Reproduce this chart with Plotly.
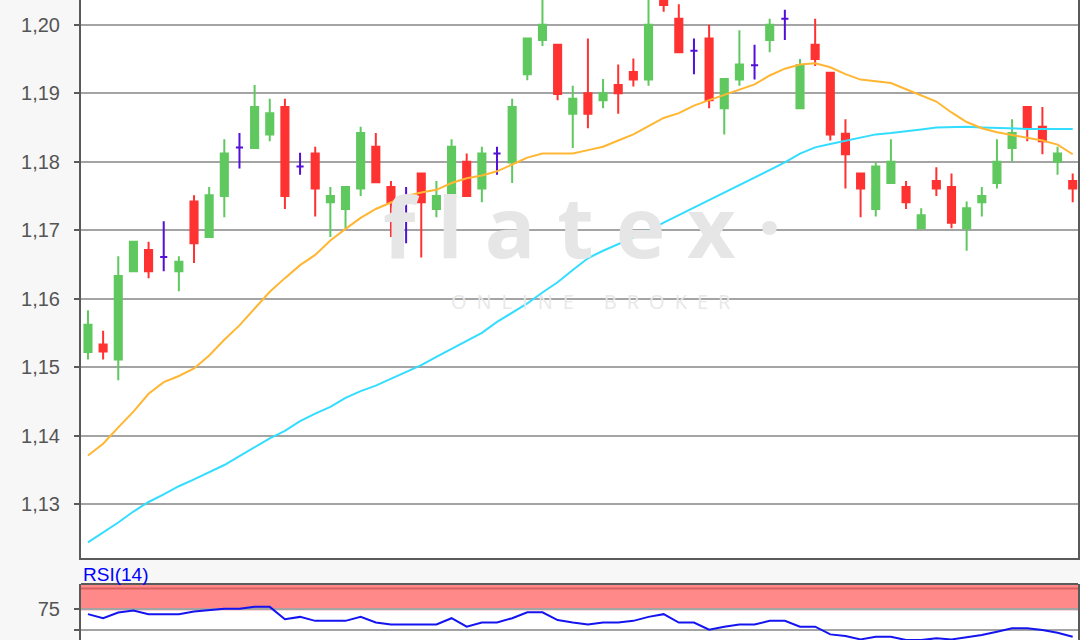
import plotly.graph_objects as go

# ---- data ----
idx = list(range(66))
open_ = [1.1522, 1.1533, 1.1511, 1.1640, 1.1671, 1.1661, 1.1640, 1.1742, 1.1690, 1.1750,
         1.1821, 1.1820, 1.1840, 1.1880, 1.1793, 1.1812, 1.1741, 1.1731, 1.1761, 1.1822,
         1.1763, 1.1741, 1.1783, 1.1731, 1.1750, 1.1800, 1.1761, 1.1812, 1.1799, 1.1928,
         1.1978, 1.1971, 1.1870, 1.1900, 1.1890, 1.1912, 1.1931, 1.1920, 1.2042, 1.2009,
         1.1962, 1.1980, 1.1878, 1.1920, 1.1941, 1.1978, 1.2009, 1.1878, 1.1971, 1.1930,
         1.1841, 1.1783, 1.1731, 1.1769, 1.1763, 1.1703, 1.1772, 1.1763, 1.1703, 1.1741,
         1.1769, 1.1820, 1.1880, 1.1851, 1.1800, 1.1772]
high = [1.1583, 1.1553, 1.1662, 1.1683, 1.1683, 1.1713, 1.1662, 1.1751, 1.1763, 1.1833,
        1.1842, 1.1912, 1.1892, 1.1892, 1.1813, 1.1822, 1.1763, 1.1763, 1.1851, 1.1842,
        1.1772, 1.1763, 1.1783, 1.1772, 1.1833, 1.1812, 1.1822, 1.1822, 1.1892, 1.1980,
        1.2045, 1.1971, 1.1911, 1.1980, 1.1921, 1.1942, 1.1951, 1.2045, 1.2050, 1.2030,
        1.1980, 1.2000, 1.1921, 1.1992, 1.1971, 1.2009, 1.2022, 1.1950, 1.2009, 1.1930,
        1.1862, 1.1783, 1.1800, 1.1833, 1.1772, 1.1732, 1.1792, 1.1783, 1.1742, 1.1763,
        1.1833, 1.1862, 1.1880, 1.1880, 1.1822, 1.1783]
low = [1.1511, 1.1511, 1.1481, 1.1640, 1.1630, 1.1640, 1.1611, 1.1652, 1.1690, 1.1719,
       1.1790, 1.1820, 1.1830, 1.1731, 1.1781, 1.1720, 1.1690, 1.1703, 1.1750, 1.1770,
       1.1690, 1.1681, 1.1660, 1.1719, 1.1731, 1.1750, 1.1741, 1.1781, 1.1769, 1.1919,
       1.1969, 1.1890, 1.1820, 1.1849, 1.1878, 1.1870, 1.1910, 1.1911, 1.2019, 1.1960,
       1.1928, 1.1878, 1.1840, 1.1911, 1.1920, 1.1960, 1.1978, 1.1878, 1.1940, 1.1831,
       1.1761, 1.1719, 1.1720, 1.1769, 1.1731, 1.1703, 1.1750, 1.1703, 1.1670, 1.1720,
       1.1761, 1.1800, 1.1830, 1.1811, 1.1781, 1.1741]
close = [1.1562, 1.1523, 1.1633, 1.1683, 1.1640, 1.1661, 1.1654, 1.1681, 1.1751, 1.1812,
         1.1821, 1.1880, 1.1871, 1.1750, 1.1793, 1.1761, 1.1750, 1.1763, 1.1842, 1.1770,
         1.1741, 1.1741, 1.1741, 1.1750, 1.1822, 1.1750, 1.1812, 1.1812, 1.1880, 1.1980,
         1.2000, 1.1899, 1.1892, 1.1870, 1.1900, 1.1900, 1.1920, 1.2000, 1.2029, 1.1960,
         1.1962, 1.1890, 1.1921, 1.1942, 1.1941, 1.2000, 1.2009, 1.1941, 1.1950, 1.1840,
         1.1811, 1.1761, 1.1793, 1.1800, 1.1741, 1.1722, 1.1761, 1.1711, 1.1732, 1.1750,
         1.1800, 1.1842, 1.1850, 1.1830, 1.1812, 1.1761]
doji_idx = [5, 10, 14, 21, 27, 40, 44, 46]

ma_fast = [1.1371, 1.1388, 1.1412, 1.1435, 1.1461, 1.1478, 1.1487, 1.1498, 1.1517, 1.1540,
           1.1561, 1.1586, 1.1610, 1.1630, 1.1649, 1.1664, 1.1685, 1.1702, 1.1718, 1.1731,
           1.1740, 1.1750, 1.1755, 1.1759, 1.1769, 1.1776, 1.1780, 1.1786, 1.1796, 1.1806,
           1.1812, 1.1812, 1.1812, 1.1817, 1.1822, 1.1831, 1.1840, 1.1852, 1.1864, 1.1871,
           1.1882, 1.1890, 1.1898, 1.1906, 1.1913, 1.1926, 1.1936, 1.1942, 1.1944, 1.1938,
           1.1928, 1.1920, 1.1917, 1.1915, 1.1906, 1.1897, 1.1888, 1.1872, 1.1858, 1.1849,
           1.1843, 1.1839, 1.1835, 1.1831, 1.1825, 1.1811]
ma_slow = [1.1244, 1.1258, 1.1273, 1.1289, 1.1303, 1.1314, 1.1326, 1.1336, 1.1347, 1.1357,
           1.1370, 1.1383, 1.1396, 1.1407, 1.1421, 1.1432, 1.1442, 1.1455, 1.1465, 1.1473,
           1.1483, 1.1494, 1.1503, 1.1515, 1.1527, 1.1539, 1.1550, 1.1566, 1.1580, 1.1593,
           1.1609, 1.1624, 1.1642, 1.1659, 1.1670, 1.1680, 1.1689, 1.1699, 1.1711, 1.1722,
           1.1732, 1.1743, 1.1754, 1.1765, 1.1776, 1.1787, 1.1799, 1.1812, 1.1821, 1.1826,
           1.1831, 1.1836, 1.1840, 1.1842, 1.1844, 1.1847, 1.1850, 1.1851, 1.1851, 1.1850,
           1.1849, 1.1848, 1.1848, 1.1848, 1.1848, 1.1848]
rsi = [69.0, 64.1, 70.9, 73.3, 69.0, 69.0, 69.0, 72.1, 74.2, 75.4,
       75.4, 77.8, 77.8, 62.9, 65.7, 60.9, 60.9, 60.9, 65.7, 58.9,
       56.5, 56.5, 56.5, 56.5, 64.1, 53.9, 58.9, 58.9, 64.1, 71.3,
       71.3, 61.9, 58.9, 56.5, 58.9, 58.9, 60.9, 65.7, 69.0, 58.9,
       58.9, 50.2, 53.9, 56.5, 56.5, 60.9, 60.9, 53.9, 53.9, 44.6,
       42.6, 38.5, 41.8, 41.8, 37.7, 37.7, 39.8, 38.5, 41.0, 43.8,
       47.8, 51.9, 51.9, 49.8, 46.6, 41.8]
price_ticks = [1.13, 1.14, 1.15, 1.16, 1.17, 1.18, 1.19, 1.20]
rsi_ticks = [50, 75]
rsi_tick_labels = ["", "75"]

# ---- styling ----
GREEN = "#5fc85f"
RED = "#ff3232"
PURPLE = "#5310d8"
ORANGE = "#ffb632"
CYAN = "#33ddff"
AXIS = "#5a5a5a"
GRID = "#a4a4a4"

dset = set(doji_idx)
o_n = [None if i in dset else v for i, v in zip(idx, open_)]
h_n = [None if i in dset else v for i, v in zip(idx, high)]
l_n = [None if i in dset else v for i, v in zip(idx, low)]
c_n = [None if i in dset else v for i, v in zip(idx, close)]

fig = go.Figure()

fig.add_trace(go.Scatter(x=idx, y=ma_slow, mode="lines", line=dict(color=CYAN, width=2),
                         hoverinfo="skip", showlegend=False))
fig.add_trace(go.Scatter(x=idx, y=ma_fast, mode="lines", line=dict(color=ORANGE, width=2),
                         hoverinfo="skip", showlegend=False))

fig.add_trace(go.Candlestick(
    x=idx, open=o_n, high=h_n, low=l_n, close=c_n,
    increasing=dict(line=dict(color=GREEN, width=2), fillcolor=GREEN),
    decreasing=dict(line=dict(color=RED, width=2), fillcolor=RED),
    whiskerwidth=0, showlegend=False, hoverinfo="skip"))
fig.add_trace(go.Candlestick(
    x=doji_idx,
    open=[open_[i] for i in doji_idx], high=[high[i] for i in doji_idx],
    low=[low[i] for i in doji_idx], close=[close[i] for i in doji_idx],
    increasing=dict(line=dict(color=PURPLE, width=2), fillcolor=PURPLE),
    decreasing=dict(line=dict(color=PURPLE, width=2), fillcolor=PURPLE),
    whiskerwidth=0, showlegend=False, hoverinfo="skip"))

fig.add_trace(go.Scatter(x=idx, y=rsi, mode="lines", line=dict(color="#1414f0", width=2),
                         xaxis="x2", yaxis="y2", hoverinfo="skip", showlegend=False))

H = 640.0
main_bottom = (H - 557.7) / H
rsi_top = (H - 584.0) / H
xr = [-0.46, 65.35]

fig.update_layout(
    width=1080, height=640,
    margin=dict(l=81, r=2, t=0, b=0, pad=0, autoexpand=False),
    paper_bgcolor="#f7f7f7", plot_bgcolor="#ffffff",
    separators=", ",
    font=dict(family="Liberation Sans, Arial, sans-serif", size=20, color="#555555"),
    showlegend=False,
    xaxis=dict(domain=[0, 1], range=xr, showticklabels=False, showgrid=False, zeroline=False,
               showline=True, linecolor=AXIS, linewidth=2, ticks="", automargin=False,
               rangeslider=dict(visible=False), anchor="y"),
    yaxis=dict(domain=[main_bottom, 1.0], range=[1.12216, 1.20363], tickvals=price_ticks,
               tickformat=".2f", showgrid=True, gridcolor=GRID, gridwidth=2, zeroline=False,
               showline=True, linecolor=AXIS, linewidth=2, mirror=True, automargin=False,
               ticks="outside", ticklen=5, tickwidth=2, tickcolor=AXIS,
               ticklabelstandoff=10, anchor="x"),
    xaxis2=dict(domain=[0, 1], range=xr, showticklabels=False, showgrid=False, zeroline=False,
                showline=False, anchor="y2", matches="x", automargin=False),
    yaxis2=dict(domain=[0, rsi_top], range=[37.8, 105.4], tickvals=rsi_ticks,
                ticktext=rsi_tick_labels, showgrid=True, gridcolor=GRID, gridwidth=2,
                zeroline=False, showline=True, linecolor=AXIS, linewidth=2, mirror=True,
                ticks="outside", ticklen=5, tickwidth=2, tickcolor=AXIS, automargin=False,
                ticklabelstandoff=10, anchor="x2"),
    boxgap=0.33,
)

# RSI overbought band
fig.add_shape(type="rect", xref="x2 domain", yref="y2", x0=0, x1=1, y0=75, y1=105.4,
              fillcolor="#ff8888", line=dict(width=0), layer="below")
fig.add_shape(type="line", xref="x2 domain", yref="y2", x0=0, x1=1, y0=100, y1=100,
              line=dict(color="#d96060", width=2), layer="below")
fig.add_shape(type="line", xref="x2 domain", yref="y2", x0=0, x1=1, y0=75, y1=75,
              line=dict(color="#d96060", width=2), layer="below")
# RSI panel top border
fig.add_shape(type="line", xref="x2 domain", yref="paper", x0=0, x1=1, y0=rsi_top, y1=rsi_top,
              line=dict(color=AXIS, width=2))

fig.add_annotation(text="RSI(14)", xref="paper", yref="paper", x=0.0, y=(H - 587.0) / H,
                   xanchor="left", yanchor="bottom", showarrow=False,
                   font=dict(family="Liberation Sans, Arial, sans-serif", size=19, color="#0000ff"))

# watermark
fig.add_annotation(text="f l a t e x ·", xref="paper", yref="paper",
                   x=(582 - 81) / 997.0, y=1 - 225 / H, xanchor="center", yanchor="middle",
                   showarrow=False,
                   font=dict(family="Open Sans, sans-serif", size=84, color="#e6e6e6",
                             weight="bold"))
fig.add_annotation(text="O\u2002N\u2002L\u2002I\u2002N\u2002E\u2002\u2002\u2002B\u2002R\u2002O\u2002K\u2002E\u2002R",
                   xref="paper", yref="paper",
                   x=(591 - 81) / 997.0, y=1 - 301 / H, xanchor="center", yanchor="middle",
                   showarrow=False,
                   font=dict(family="Open Sans, sans-serif", size=20, color="#e8e8e8"))

fig.write_html("out.html", config={"displayModeBar": False},
               post_script="document.body.style.margin='0px';document.body.style.overflow='hidden';")
